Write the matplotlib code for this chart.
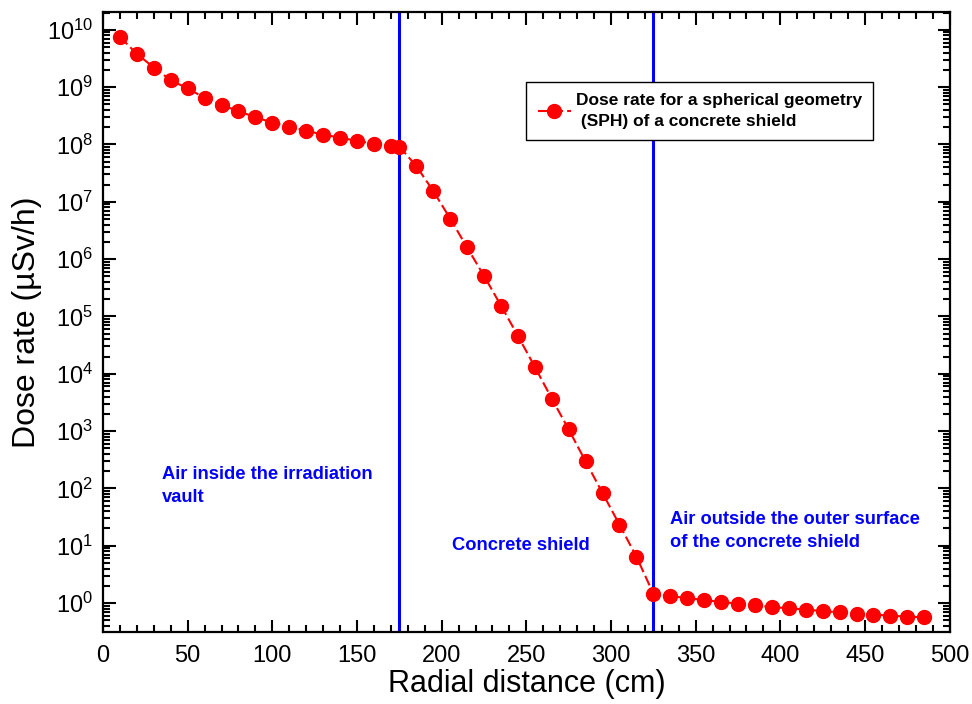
import numpy as np
import matplotlib
matplotlib.use('Agg')
import matplotlib.pyplot as plt
from matplotlib.ticker import MultipleLocator, LogLocator

plt.rcParams['font.family'] = ['Liberation Sans', 'DejaVu Sans']
plt.rcParams['mathtext.fontset'] = 'custom'
plt.rcParams['mathtext.rm'] = 'Liberation Sans'
plt.rcParams['mathtext.default'] = 'regular'

# Данные: радиальное расстояние (см) и мощность дозы (мкЗв/ч)
distance = [10, 20, 30, 40, 50, 60, 70, 80, 90, 100, 110, 120, 130, 140, 150, 160, 170, 175,
            185, 195, 205, 215, 225, 235, 245, 255, 265, 275, 285, 295, 305, 315, 325,
            335, 345, 355, 365, 375, 385, 395, 405, 415, 425, 435, 445, 455, 465, 475, 485]
dose_rate = [7.5e9, 3.8e9, 2.2e9, 1.32e9, 9.5e8, 6.5e8, 4.9e8, 3.8e8, 3.0e8, 2.4e8, 2.04e8,
             1.74e8, 1.48e8, 1.32e8, 1.15e8, 1.04e8, 9.5e7, 9.2e7,
             4.2e7, 1.55e7, 5.1e6, 1.6e6, 5.1e5, 1.55e5, 4.6e4, 1.32e4, 3.7e3, 1.07e3,
             296, 83, 23.3, 6.45, 1.46,
             1.32, 1.22, 1.13, 1.04, 0.98, 0.91, 0.85, 0.81, 0.77, 0.72, 0.69, 0.65,
             0.63, 0.60, 0.58, 0.56]
boundaries = [175, 325]
region_labels = ["Air inside the irradiation\nvault", "Concrete shield",
                 "Air outside the outer surface\nof the concrete shield"]
region_pos = [(35, 1.09e2), (206, 1.0e1), (335, 1.8e1)]
legend_label = "Dose rate for a spherical geometry\n (SPH) of a concrete shield"

fig = plt.figure(figsize=(9.72, 7.04), dpi=100)
ax = fig.add_axes([0.106, 0.102, 0.871, 0.881])

for b in boundaries:
    ax.axvline(b, color='#0000ff', lw=2.2, zorder=1)

ax.plot(distance, dose_rate, color='red', ls=(0, (5, 2)), lw=1.5, marker='o',
        markersize=10, markeredgecolor='red', markerfacecolor='red', zorder=3,
        label=legend_label)

for txt, (xp, yp) in zip(region_labels, region_pos):
    ax.text(xp, yp, txt, color='#0000ff', fontsize=13.2, fontweight='bold',
            va='center', ha='left', linespacing=1.45)

ax.set_yscale('log')
ax.set_xlim(0, 500)
ax.set_ylim(0.31, 2.05e10)
ax.xaxis.set_major_locator(MultipleLocator(50))
ax.xaxis.set_minor_locator(MultipleLocator(10))
ax.yaxis.set_major_locator(LogLocator(base=10, numticks=20))
ax.yaxis.set_minor_locator(LogLocator(base=10, subs=np.arange(2, 10), numticks=20))

ax.tick_params(which='both', direction='in', top=True, right=True, width=1.5,
               labelsize=17)
ax.tick_params(which='major', length=9)
ax.tick_params(which='minor', length=5)
ax.tick_params(axis='x', pad=9)
ax.tick_params(axis='y', pad=7)
for s in ax.spines.values():
    s.set_linewidth(1.6)

ax.set_xlabel('Radial distance (cm)', fontsize=22, labelpad=2)
ax.set_ylabel('Dose rate (\u00b5Sv/h)', fontsize=23, labelpad=4)

leg = ax.legend(loc='upper left', bbox_to_anchor=(0.5, 0.887), fontsize=12.5,
                frameon=True, fancybox=False, framealpha=1, edgecolor='black',
                handlelength=1.9, borderpad=0.65, handletextpad=0.3,
                borderaxespad=0)
leg.get_frame().set_linewidth(1.0)
for t in leg.get_texts():
    t.set_fontweight('bold')
    t.set_linespacing(1.45)

fig.savefig('out.png', dpi=100)
